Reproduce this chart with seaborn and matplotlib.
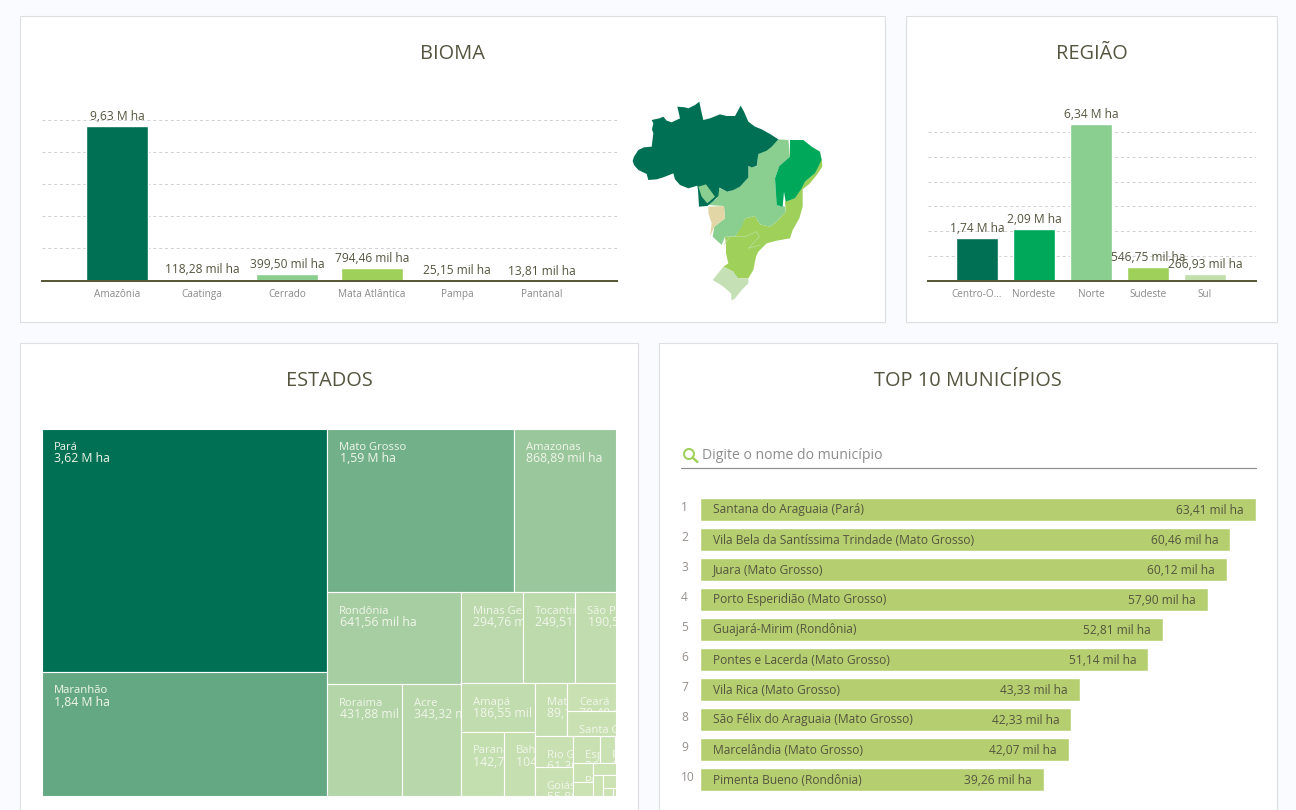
"""Dashboard de area por bioma, regiao, estado e municipio."""

import matplotlib
matplotlib.use("Agg")
import matplotlib.pyplot as plt
import seaborn as sns
from matplotlib.colors import LinearSegmentedColormap, Normalize
from matplotlib.patches import Circle, Rectangle

# all values in thousand hectares
BIOMES = ["Amazônia", "Caatinga", "Cerrado", "Mata Atlântica", "Pampa", "Pantanal"]
BIOME_VALUES = [9630, 118.28, 399.50, 794.46, 25.15, 13.81]

REGIONS = ["Centro-O...", "Nordeste", "Norte", "Sudeste", "Sul"]
REGION_VALUES = [1740, 2090, 6340, 546.75, 266.93]

STATES = {
    "Pará": 3620, "Maranhão": 1840, "Mato Grosso": 1590, "Amazonas": 868.89,
    "Rondônia": 641.56, "Roraima": 431.88, "Acre": 343.32, "Minas Gerais": 294.76,
    "Tocantins": 249.51, "São Paulo": 190.55, "Amapá": 186.55, "Paraná": 142.75,
    "Bahia": 104.20, "Mato Grosso do Sul": 89.10, "Ceará": 70.48, "Santa Catarina": 64.30,
    "Rio Grande do Sul": 61.30, "Goiás": 55.80, "Espírito Santo": 36.70, "Pernambuco": 21.70,
    "Paraíba": 19.80, "Rio de Janeiro": 14.60, "Piauí": 14.40, "Alagoas": 11.00,
    "Sergipe": 8.10, "Rio Grande do Norte": 3.80, "Distrito Federal": 1.20,
}

# nesting of the treemap: "h" splits side by side, "v" splits one over the other
STATE_TREE = ("h", [
    ("v", ["Pará", "Maranhão"]),
    ("v", [
        ("h", ["Mato Grosso", "Amazonas"]),
        ("h", [
            ("v", ["Rondônia", ("h", ["Roraima", "Acre"])]),
            ("v", [
                ("h", ["Minas Gerais", "Tocantins", "São Paulo"]),
                ("h", [
                    ("v", ["Amapá", ("h", ["Paraná", "Bahia"])]),
                    ("v", [
                        ("h", ["Mato Grosso do Sul", ("v", ["Ceará", "Santa Catarina"])]),
                        ("h", [
                            ("v", ["Rio Grande do Sul", "Goiás"]),
                            ("v", [
                                ("h", ["Espírito Santo", "Pernambuco"]),
                                ("h", [
                                    ("v", ["Paraíba", "Rio de Janeiro"]),
                                    ("v", ["Piauí", ("h", ["Alagoas", ("v", ["Sergipe", ("h", ["Rio Grande do Norte", "Distrito Federal"])])])]),
                                ]),
                            ]),
                        ]),
                    ]),
                ]),
            ]),
        ]),
    ]),
])

CITIES = [
    "Santana do Araguaia (Pará)", "Vila Bela da Santíssima Trindade (Mato Grosso)",
    "Juara (Mato Grosso)", "Porto Esperidião (Mato Grosso)", "Guajará-Mirim (Rondônia)",
    "Pontes e Lacerda (Mato Grosso)", "Vila Rica (Mato Grosso)",
    "São Félix do Araguaia (Mato Grosso)", "Marcelândia (Mato Grosso)", "Pimenta Bueno (Rondônia)",
]
CITY_VALUES = [63.41, 60.46, 60.12, 57.90, 52.81, 51.14, 43.33, 42.33, 42.07, 39.26]

# map outline
MAP_SHAPES = {
    "#9FD05A": [(605, 205), (607, 230), (590, 255), (570, 280), (548, 298), (548, 350), (538, 385), (518, 420),
                (510, 445), (470, 452), (440, 460), (415, 485), (408, 500), (400, 540), (385, 565), (345, 565),
                (340, 545), (310, 530), (325, 520), (318, 490), (318, 465), (315, 440), (345, 440), (360, 415),
                (375, 385), (405, 378), (420, 403), (450, 410), (470, 395), (497, 365), (495, 335), (525, 325),
                (555, 275), (585, 250)],
    "#C5E0B5": [(278, 570), (310, 530), (340, 545), (355, 565), (385, 565), (385, 580), (365, 600), (345, 625),
                (335, 632), (333, 610), (310, 590)],
    "#8ACE90": [(475, 148), (505, 150), (510, 200), (478, 228), (465, 265), (470, 345), (495, 350), (497, 365),
                (470, 395), (450, 410), (420, 403), (405, 378), (375, 385), (365, 410), (345, 440), (315, 440),
                (305, 465), (278, 440), (283, 410), (315, 385), (312, 348), (265, 345), (290, 325), (298, 295),
                (325, 305), (360, 290), (385, 260), (385, 230), (410, 230), (415, 190), (440, 180)],
    "#00A859": [(510, 150), (550, 150), (575, 170), (600, 185), (605, 210), (585, 250), (555, 275), (545, 295),
                (525, 325), (497, 335), (492, 305), (488, 350), (470, 345), (465, 265), (478, 228), (510, 200)],
    "#E2D6A6": [(265, 350), (312, 348), (315, 385), (283, 410), (270, 440), (275, 400), (265, 370)],
    "#007054": [(38, 213), (42, 200), (55, 180), (72, 172), (95, 170), (100, 130), (96, 118), (100, 100), (95, 90),
                (118, 85), (130, 80), (140, 92), (155, 97), (180, 85), (172, 50), (195, 52), (205, 55), (225, 45),
                (238, 35), (243, 60), (250, 90), (270, 85), (300, 73), (320, 78), (345, 78), (362, 47), (372, 65),
                (385, 95), (405, 110), (425, 118), (450, 132), (475, 148), (455, 170), (440, 182), (415, 192),
                (410, 228), (395, 232), (385, 228), (385, 262), (360, 290), (340, 300), (322, 305), (298, 293),
                (295, 318), (278, 335), (262, 348), (237, 350), (234, 300), (232, 287), (205, 295), (180, 285),
                (165, 268), (160, 250), (130, 262), (110, 268), (85, 270), (80, 252), (55, 240), (42, 225)],
}
MAP_PATCH = [(235, 290), (258, 283), (285, 320), (262, 340), (245, 320)]
MAP_SPECKLE = [(312, 465), (330, 440), (375, 440), (410, 425), (418, 440), (385, 475), (420, 465)]

BIOME_COLORS = ["#007054", "#00A859", "#8ACE90", "#9FD05A", "#C5E0B5", "#E2D6A6"]
REGION_COLORS = ["#007054", "#00A859", "#8ACE90", "#9FD05A", "#C1DFAA"]
TEXT = "#55553F"
PX = 0.72  # font points per pixel at dpi 100
W, H = 1296, 810

sns.set_theme(style="white")
plt.rcParams["font.family"] = ["Open Sans", "DejaVu Sans"]


def fmt_ha(v):
    if v >= 1000:
        return f"{v / 1000:.2f} M ha".replace(".", ",")
    return f"{v:.2f} mil ha".replace(".", ",")


def px_axes(fig, x0, y0, x1, y1):
    return fig.add_axes([x0 / W, 1 - y1 / H, (x1 - x0) / W, (y1 - y0) / H])


def bar_panel(ax, cats, vals, colors, width, xlim, ymax, step):
    sns.barplot(x=cats, y=vals, hue=cats, palette=colors, legend=False, width=width,
                saturation=1, ax=ax, zorder=2)
    ax.set_xlim(*xlim)
    ax.set_ylim(0, ymax)
    ax.patch.set_alpha(0)
    ax.set_yticks(range(step, int(ymax), step))
    ax.set_yticklabels([])
    ax.yaxis.grid(True, color="#CFCFCF", linestyle=(0, (3, 3)), linewidth=0.7)
    ax.set_axisbelow(True)
    ax.spines[["top", "right", "left"]].set_visible(False)
    ax.spines["bottom"].set_color("#5A5A3A")
    ax.spines["bottom"].set_linewidth(2 * PX)
    ax.tick_params(axis="both", length=0)
    ax.tick_params(axis="x", labelsize=10 * PX, labelcolor="#8A8A8A", pad=12)
    for label in ax.get_xticklabels():
        label.set_va("baseline")
    for c, v in zip(ax.containers, vals):
        ax.bar_label(c, labels=[fmt_ha(v)], fontsize=12 * PX, color=TEXT, padding=2, zorder=5)


def subtotal(node):
    if isinstance(node, str):
        return STATES[node]
    return sum(subtotal(c) for c in node[1])


def layout(node, x, y, w, h, out):
    """Turn the nesting into rectangles whose areas follow the state values."""
    if isinstance(node, str):
        out.append((node, x, y, w, h))
        return
    direction, children = node
    total = subtotal(node)
    for child in children:
        frac = subtotal(child) / total
        if direction == "h":
            layout(child, x, y, w * frac, h, out)
            x += w * frac
        else:
            layout(child, x, y, w, h * frac, out)
            y += h * frac


fig = plt.figure(figsize=(W / 100, H / 100), dpi=100, facecolor="#FAFBFE")

# page layer in pixel coordinates, for the cards and their headings
page = fig.add_axes([0, 0, 1, 1])
page.set_xlim(0, W)
page.set_ylim(H, 0)
page.axis("off")
for x0, y0, x1, y1, title in [(20, 16, 885, 322, "BIOMA"), (906, 16, 1277, 322, "REGIÃO"),
                              (20, 343, 638, 840, "ESTADOS"), (659, 343, 1277, 840, "TOP 10 MUNICÍPIOS")]:
    page.add_patch(Rectangle((x0, y0), x1 - x0, y1 - y0, facecolor="white", edgecolor="#DDDFE0", linewidth=0.8))
    page.text((x0 + x1) / 2, y0 + 43, title, ha="center", va="baseline", fontsize=20 * PX, color=TEXT)

bar_panel(px_axes(fig, 41.5, 95, 616.5, 280.5), BIOMES, BIOME_VALUES, BIOME_COLORS, 0.73,
          (-0.888, 5.876), 11560, 2000)
bar_panel(px_axes(fig, 928, 115, 1256, 280.5), REGIONS, REGION_VALUES, REGION_COLORS, 0.72,
          (-0.86, 4.895), 6700, 1000)

ax_map = px_axes(fig, 620, 90, 840, 310)
ax_map.set_xlim(0, 660)
ax_map.set_ylim(660, 0)
ax_map.axis("off")
for color, shape in MAP_SHAPES.items():
    ax_map.fill(*zip(*shape), color=color, linewidth=0)
ax_map.fill(*zip(*MAP_PATCH), color="#8ACE90", linewidth=0)
ax_map.plot(*zip(*MAP_SPECKLE), color="#B9DF9C", linewidth=0.5)

# treemap
ax_tree = px_axes(fig, 42, 428.5, 615.5, 795.5)
ax_tree.set_xlim(0, 573.5)
ax_tree.set_ylim(367, 0)
ax_tree.axis("off")
cells = []
layout(STATE_TREE, 0, 0, 573.5, 367, cells)
cmap = LinearSegmentedColormap.from_list("estados", ["#CBE2B3", "#007054"])
norm = Normalize(min(STATES.values()), max(STATES.values()))
for name, x, y, w, h in cells:
    bars = ax_tree.bar(x, h, width=w, bottom=y, align="edge", color=cmap(norm(STATES[name])),
                       edgecolor="white", linewidth=0.8)
    for dx, dy, txt, size in [(12, 21.5, name, 11.2), (12.5, 34, fmt_ha(STATES[name]), 12.2)]:
        t = ax_tree.text(x + dx, y + dy, txt, fontsize=size * PX, color="#F1F6EA", va="baseline")
        t.set_clip_path(bars[0])
        t.set_clip_on(True)

# top 10 list
page.add_patch(Circle((689, 454), 5, fill=False, edgecolor="#9FD05A", linewidth=2 * PX))
page.plot([692.5, 697.5], [457.5, 462], color="#9FD05A", linewidth=2.4 * PX, solid_capstyle="round")
page.text(702, 459, "Digite o nome do município", fontsize=14 * PX, color="#8C8C8C", va="baseline")
page.plot([681, 1256], [467.5, 467.5], color="#8F8F8F", linewidth=1.2 * PX)

ax_top = px_axes(fig, 700, 494, 1256, 794)
sns.barplot(x=CITY_VALUES, y=CITIES, color="#B5CF70", orient="h", width=23 / 30, saturation=1, ax=ax_top)
ax_top.set_xlim(0, max(CITY_VALUES))
ax_top.set_ylim(9.5, -0.5)
ax_top.axis("off")
for i, (city, v) in enumerate(zip(CITIES, CITY_VALUES)):
    ax_top.annotate(str(i + 1), (0, i), xytext=(-19 * PX, -2 * PX), textcoords="offset points", fontsize=12 * PX,
                    color="#96908C", va="baseline", annotation_clip=False)
    ax_top.annotate(city, (0, i), xytext=(13 * PX, -4.5 * PX), textcoords="offset points", fontsize=12 * PX,
                    color=TEXT, va="baseline")
    ax_top.annotate(fmt_ha(v), (v, i), xytext=(-12 * PX, -4.5 * PX), textcoords="offset points", fontsize=12 * PX,
                    color=TEXT, va="baseline", ha="right")

fig.savefig("out.png", dpi=100, facecolor=fig.get_facecolor())
